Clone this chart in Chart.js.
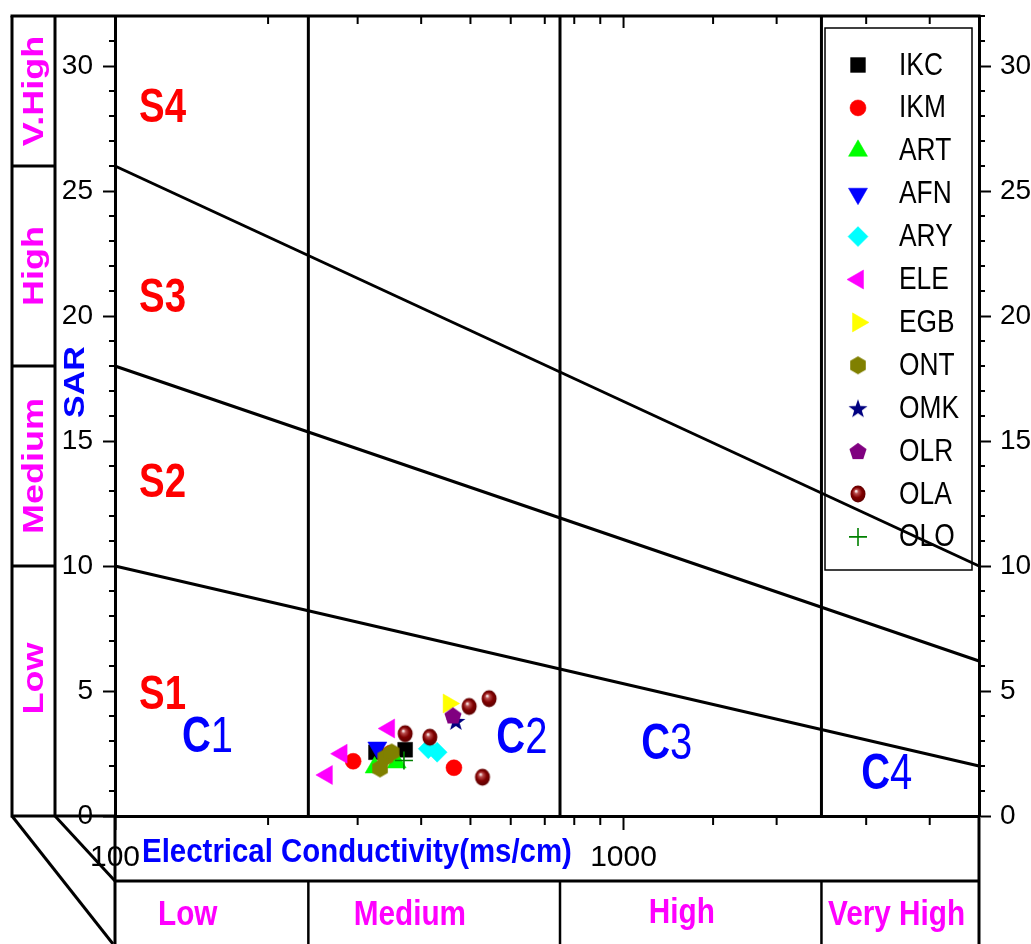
<!DOCTYPE html>
<html><head><meta charset="utf-8">
<script src="https://cdn.jsdelivr.net/npm/chart.js@4.4.1/dist/chart.umd.min.js"></script>
<style>html,body{margin:0;padding:0;background:#fff;overflow:hidden}canvas{display:block}</style>
</head><body>
<canvas id="c" width="1031" height="944"></canvas>
<script>
// ---------- data ----------
const seriesNames = ['IKC','IKM','ART','AFN','ARY','ELE','EGB','ONT','OMK','OLR','OLA','OLO'];
const IKC_EC = [326, 372],            IKC_SAR = [2.55, 2.65];
const IKM_EC = [294, 348, 464],       IKM_SAR = [2.19, 2.51, 1.93];
const ART_EC = [324, 358],            ART_SAR = [1.94, 2.14];
const AFN_EC = [328],                 AFN_SAR = [2.74];
const ARY_EC = [413, 430],            ARY_SAR = [2.69, 2.55];
const ELE_EC = [261, 279, 346],       ELE_SAR = [1.64, 2.49, 3.5];
const EGB_EC = [453],                 EGB_SAR = [4.5];
const ONT_EC = [332, 340, 350],       ONT_SAR = [1.9, 2.34, 2.54];
const OMK_EC = [468],                 OMK_SAR = [3.8];
const OLR_EC = [462],                 OLR_SAR = [4.02];
const OLA_EC = [372, 416, 497, 544, 528], OLA_SAR = [3.29, 3.15, 4.38, 4.69, 1.55];
const OLO_EC = [370],                 OLO_SAR = [2.22];

const EC_RANGE = [100, 5000];
const SAR_RANGE = [0, 32];
const xTickLabels = [100, 1000];
const yTickStep = 5;

const ecClassLimits = [240, 750, 2450];          // salinity class boundaries
const ecClassNames = ['Low', 'Medium', 'High', 'Very High'];
const ecClassLabelEC = [139, 380, 1302, 3443];
const sarClassLimits = [10, 18, 26];             // sodium class boundaries at EC = 100
const sarClassNames = ['Low', 'Medium', 'High', 'V.High'];
const sarClassLabelSAR = [5.5, 14, 22, 29];
const sarLineStart = [10, 18, 26];               // SAR at EC 100
const sarLineEnd = [2, 6.2, 10];                 // SAR at EC 5000

const sLabels = ['S1', 'S2', 'S3', 'S4'];
const sLabelEC = [124, 124, 124, 124];
const sLabelSAR = [4.82, 13.3, 20.7, 28.3];
const cLabels = ['1', '2', '3', '4'];
const cLabelEC = [152, 631, 1216, 3293];
const cLabelSAR = [3.1, 3.06, 2.82, 1.62];

// ---------- custom marker images ----------
function mk(w, h, fn) { const c = document.createElement('canvas'); c.width = w; c.height = h; fn(c.getContext('2d'), w / 2, h / 2); return c; }
function poly(g, cx, cy, r, n, start, color) {
  g.fillStyle = color; g.beginPath();
  for (let k = 0; k < n; k++) { const a = (start + k * 360 / n) * Math.PI / 180; const px = cx + r * Math.cos(a), py = cy + r * Math.sin(a); k ? g.lineTo(px, py) : g.moveTo(px, py); }
  g.closePath(); g.fill();
}
const hexImg = mk(20, 20, (g, cx, cy) => poly(g, cx, cy, 9, 6, -90, '#808000'));
const pentImg = mk(20, 20, (g, cx, cy) => poly(g, cx, cy + 0.8, 9, 5, -90, '#800080'));
const starImg = mk(22, 22, (g, cx, cy) => {
  g.fillStyle = '#000080'; g.beginPath();
  for (let k = 0; k < 10; k++) { const r = k % 2 ? 4 : 10; const a = (-90 + k * 36) * Math.PI / 180; const px = cx + r * Math.cos(a), py = cy + 1 + r * Math.sin(a); k ? g.lineTo(px, py) : g.moveTo(px, py); }
  g.closePath(); g.fill();
});
const sphereImg = mk(18, 20, (g, cx, cy) => {
  const grd = g.createRadialGradient(cx - 2, cy - 3, 0.3, cx, cy, 9);
  grd.addColorStop(0, '#ffffff'); grd.addColorStop(0.22, '#b84a4a'); grd.addColorStop(0.55, '#800000'); grd.addColorStop(1, '#560000');
  g.fillStyle = grd; g.beginPath(); g.ellipse(cx, cy, 7.5, 8.5, 0, 0, Math.PI * 2); g.fill();
});

const seriesEC = [IKC_EC, IKM_EC, ART_EC, AFN_EC, ARY_EC, ELE_EC, EGB_EC, ONT_EC, OMK_EC, OLR_EC, OLA_EC, OLO_EC];
const seriesSAR = [IKC_SAR, IKM_SAR, ART_SAR, AFN_SAR, ARY_SAR, ELE_SAR, EGB_SAR, ONT_SAR, OMK_SAR, OLR_SAR, OLA_SAR, OLO_SAR];
const seriesStyle = [
  { c: '#000000', s: 'rect', r: 10.5, rot: 0 },
  { c: '#FF0000', s: 'circle', r: 8, rot: 0 },
  { c: '#00FF00', s: 'triangle', r: 11, rot: 0 },
  { c: '#0000FF', s: 'triangle', r: 11, rot: 180 },
  { c: '#00FFFF', s: 'rectRot', r: 10, rot: 0 },
  { c: '#FF00FF', s: 'triangle', r: 11, rot: -90 },
  { c: '#FFFF00', s: 'triangle', r: 11, rot: 90 },
  { c: '#808000', s: hexImg, r: 9, rot: 0 },
  { c: '#000080', s: starImg, r: 9, rot: 0 },
  { c: '#800080', s: pentImg, r: 9, rot: 0 },
  { c: '#800000', s: sphereImg, r: 9, rot: 0 },
  { c: '#008000', s: 'cross', r: 9, rot: 0 },
];

const datasets = [];
// class boundary lines
sarLineStart.forEach((v, i) => datasets.push({
  type: 'line', data: [{ x: EC_RANGE[0], y: v }, { x: EC_RANGE[1], y: sarLineEnd[i] }],
  borderColor: '#000', borderWidth: 3, pointRadius: 0, showLine: true, order: 300, clip: false
}));
ecClassLimits.forEach(v => datasets.push({
  type: 'line', data: [{ x: v, y: SAR_RANGE[0] }, { x: v, y: SAR_RANGE[1] }],
  borderColor: '#000', borderWidth: 3, pointRadius: 0, showLine: true, order: 300
}));
// sample series
seriesNames.forEach((n, i) => {
  const st = seriesStyle[i];
  datasets.push({
    type: 'scatter', label: n,
    data: seriesEC[i].map((e, k) => ({ x: e, y: seriesSAR[i][k] })),
    pointStyle: st.s, pointRadius: st.r, pointRotation: st.rot,
    pointBackgroundColor: st.c, pointBorderColor: st.c,
    pointBorderWidth: st.s === 'cross' ? 1.6 : 0.5,
    order: 100 - i
  });
});

// ---------- text helpers ----------
const FAM = '"Liberation Sans", Arial, sans-serif';
function txt(ctx, s, x, y, font, color, align, sq, base) {
  ctx.save(); ctx.translate(x, y); ctx.scale(sq, 1);
  ctx.font = font; ctx.fillStyle = color; ctx.textAlign = align; ctx.textBaseline = base || 'middle';
  ctx.fillText(s, 0, 0); ctx.restore();
}

const framePlugin = {
  id: 'frame',
  afterDraw(chart) {
    const { ctx, chartArea: a, scales } = chart;
    const x = scales.x, y = scales.y;
    const L = a.left, R = a.right, T = a.top, B = a.bottom, H = chart.height;
    const boxL = 12, boxR = 55, rowY = 881;
    ctx.save();
    ctx.strokeStyle = '#000'; ctx.lineCap = 'butt';
    const line = (x1, y1, x2, y2, w) => { ctx.lineWidth = w; ctx.beginPath(); ctx.moveTo(x1, y1); ctx.lineTo(x2, y2); ctx.stroke(); };
    // frame
    line(boxL - 1.5, T, R + 1.5, T, 3);
    line(boxL, T, boxL, B + 1.5, 3);
    line(boxR, T, boxR, B, 3);
    line(boxL, B, L, B, 3);
    sarClassLimits.forEach(v => { const py = y.getPixelForValue(v); line(boxL, py, boxR, py, 3); });
    line(boxL, B, L - 2, H, 3);
    line(boxR, B, L, rowY, 3);
    line(L, B, L, H, 3);
    line(R, B, R, H, 3);
    line(L, rowY, R, rowY, 3);
    ecClassLimits.forEach(v => { const px = x.getPixelForValue(v); line(px, rowY, px, H, 2.5); });
    // minor ticks
    for (let v = SAR_RANGE[0]; v <= SAR_RANGE[1]; v++) {
      if (v % yTickStep === 0) continue;
      const py = y.getPixelForValue(v);
      line(L, py, L - 6, py, 2);
      line(R, py, R + 6, py, 2);
    }
    x.ticks.forEach(t => {
      const px = x.getPixelForValue(t.value);
      if (t.value <= EC_RANGE[0] || t.value >= EC_RANGE[1]) return;
      if (xTickLabels.includes(t.value)) { line(px, T, px, T + 12, 2); return; }
      line(px, B, px, B + 9, 2);
      line(px, T, px, T + 8, 2);
    });
    // S labels
    sLabels.forEach((s, i) => txt(ctx, s, x.getPixelForValue(sLabelEC[i]), y.getPixelForValue(sLabelSAR[i]), 'bold 48px ' + FAM, '#FF0000', 'center', 0.8));
    // C labels
    cLabels.forEach((s, i) => {
      const cx = x.getPixelForValue(cLabelEC[i]), cy = y.getPixelForValue(cLabelSAR[i]);
      const sq = 0.8;
      ctx.save(); ctx.font = 'bold 50px ' + FAM; const w1 = ctx.measureText('C').width; ctx.font = '50px ' + FAM; const w2 = ctx.measureText(s).width; ctx.restore();
      const left = cx - (w1 + w2) * sq / 2;
      txt(ctx, 'C', left, cy, 'bold 50px ' + FAM, '#0000FF', 'left', sq);
      txt(ctx, s, left + w1 * sq, cy, '50px ' + FAM, '#0000FF', 'left', sq);
    });
    // SAR class labels (rotated)
    sarClassNames.forEach((s, i) => {
      const py = y.getPixelForValue(sarClassLabelSAR[i]);
      ctx.save(); ctx.translate((boxL + boxR) / 2 + 1, py); ctx.scale(0.82, 1); ctx.rotate(-Math.PI / 2);
      ctx.font = 'bold 36px ' + FAM; ctx.fillStyle = '#FF00FF'; ctx.textAlign = 'center'; ctx.textBaseline = 'middle';
      ctx.fillText(s, 0, 0); ctx.restore();
    });
    // SAR axis title
    ctx.save(); ctx.translate(76, 382); ctx.scale(0.85, 1); ctx.rotate(-Math.PI / 2);
    ctx.font = 'bold 34px ' + FAM; ctx.fillStyle = '#0000FF'; ctx.textAlign = 'center'; ctx.textBaseline = 'middle';
    ctx.fillText('SAR', 0, 0); ctx.restore();
    // EC axis title
    txt(ctx, 'Electrical Conductivity(ms/cm)', L + 242, 853, 'bold 34px ' + FAM, '#0000FF', 'center', 0.865);
    // EC class labels
    ecClassNames.forEach((s, i) => txt(ctx, s, x.getPixelForValue(ecClassLabelEC[i]), i === 2 ? 913 : 915.5, 'bold 35px ' + FAM, '#FF00FF', 'center', 0.85));
    // legend
    const lx = 825, ly = 28, lw = 147, lh = 542;
    ctx.lineWidth = 1.5; ctx.strokeStyle = '#000'; ctx.strokeRect(lx, ly, lw, lh);
    seriesNames.forEach((n, i) => {
      const iy = 65 + i * 42.9;
      const st = seriesStyle[i];
      ctx.save();
      ctx.fillStyle = st.c; ctx.strokeStyle = st.c; ctx.lineWidth = st.s === 'cross' ? 1.6 : 0.5;
      Chart.helpers.drawPoint(ctx, { pointStyle: st.s, radius: st.r, rotation: st.rot, borderWidth: ctx.lineWidth }, 858, iy);
      ctx.restore();
      txt(ctx, n, 899, iy + 1, '31px ' + FAM, '#000', 'left', 0.85);
    });
    ctx.restore();
  }
};

const tickFont = { family: '"Liberation Sans Narrow", "Liberation Sans", Arial, sans-serif', size: 28 };
const majorColor = (c) => (c.tick && c.tick.value % yTickStep === 0) ? '#000' : 'rgba(0,0,0,0)';
const zeroPad = (s) => { s.paddingTop = 0; s.paddingBottom = 0; s.paddingLeft = 0; s.paddingRight = 0; };

new Chart(document.getElementById('c'), {
  type: 'scatter',
  data: { datasets },
  options: {
    responsive: false, animation: false, devicePixelRatio: 1,
    layout: { padding: { top: 16, left: 0, right: 0, bottom: 0 }, autoPadding: false },
    plugins: { legend: { display: false }, tooltip: { enabled: false } },
    scales: {
      x: {
        type: 'logarithmic', position: 'bottom', min: EC_RANGE[0], max: EC_RANGE[1],
        afterFit(s) { s.height = 128; zeroPad(s); },
        border: { display: true, width: 3, color: '#000' },
        grid: { drawOnChartArea: false, drawTicks: true, tickLength: 14, tickWidth: 2,
          tickColor: (c) => (c.tick && xTickLabels.includes(c.tick.value)) ? '#000' : 'rgba(0,0,0,0)' },
        ticks: { autoSkip: false, maxRotation: 0, minRotation: 0, padding: 10, color: '#000',
          font: { family: tickFont.family, size: 30 },
          callback: (v) => xTickLabels.includes(v) ? String(v) : '' }
      },
      y: {
        position: 'left', min: SAR_RANGE[0], max: SAR_RANGE[1],
        afterFit(s) { s.width = 115; zeroPad(s); },
        border: { display: true, width: 3, color: '#000' },
        grid: { drawOnChartArea: false, drawTicks: true, tickLength: 12, tickWidth: 2, tickColor: majorColor },
        ticks: { stepSize: yTickStep, padding: 10, color: '#000', font: tickFont,
          callback: (v) => v % yTickStep === 0 ? v : '' }
      },
      y2: {
        position: 'right', min: SAR_RANGE[0], max: SAR_RANGE[1],
        afterFit(s) { s.width = 52; zeroPad(s); },
        border: { display: true, width: 3, color: '#000' },
        grid: { drawOnChartArea: false, drawTicks: true, tickLength: 12, tickWidth: 2, tickColor: majorColor },
        ticks: { stepSize: yTickStep, padding: 9, color: '#000', font: tickFont,
          callback: (v) => v % yTickStep === 0 ? v : '' }
      }
    }
  },
  plugins: [framePlugin]
});
</script>
</body></html>
